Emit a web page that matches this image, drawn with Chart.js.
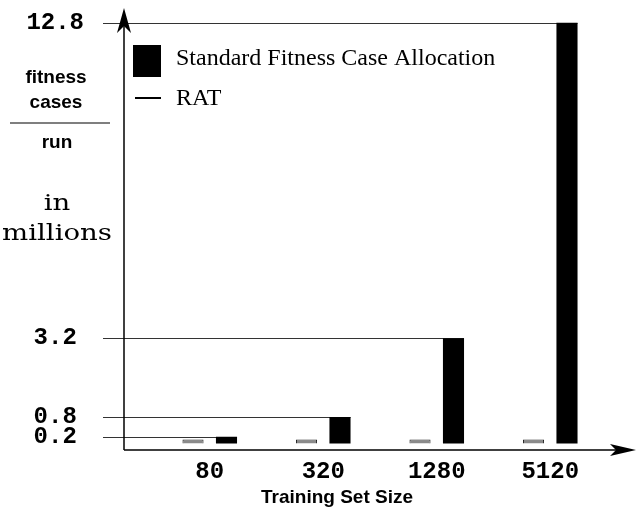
<!DOCTYPE html>
<html><head><meta charset="utf-8">
<script src="https://cdn.jsdelivr.net/npm/chart.js@4.4.1/dist/chart.umd.min.js"></script>
<style>html,body{margin:0;padding:0;background:#fff}canvas{display:block}</style>
</head><body>
<canvas id="c" width="636" height="521"></canvas>
<script>
const categories = ['80', '320', '1280', '5120'];
const ratValues = [0.12, 0.12, 0.12, 0.12];
const standardValues = [0.2, 0.8, 3.2, 12.8];
const yTickValues = [0.2, 0.8, 3.2, 12.8];
const seriesNames = ['RAT', 'Standard Fitness Case Allocation'];
const xAxisTitle = 'Training Set Size';
const yLabelTop = ['fitness', 'cases'];
const yLabelBottom = 'run';
const yLabelUnit = ['in', 'millions'];

const decor = {
  id: 'decor',
  beforeDatasetsDraw(chart) {
    const ctx = chart.ctx;
    const std = chart.getDatasetMeta(1).data;
    ctx.save();
    ctx.strokeStyle = '#333';
    ctx.lineWidth = 1;
    std.forEach(el => {
      const y = Math.round(el.y) + 0.5;
      ctx.beginPath();
      ctx.moveTo(103, y);
      ctx.lineTo(el.x + el.width / 2, y);
      ctx.stroke();
    });
    ctx.restore();
  },
  afterDraw(chart) {
    const ctx = chart.ctx;
    const ca = chart.chartArea;
    const ax = ca.left - 29;
    const ay = ca.bottom;
    ctx.save();
    ctx.strokeStyle = '#000';
    ctx.fillStyle = '#000';
    ctx.lineWidth = 1.5;
    // y axis
    ctx.beginPath(); ctx.moveTo(ax, ay); ctx.lineTo(ax, 20); ctx.stroke();
    ctx.beginPath();
    ctx.moveTo(ax, 8); ctx.lineTo(ax - 7, 33); ctx.lineTo(ax, 26); ctx.lineTo(ax + 7, 33);
    ctx.closePath(); ctx.fill();
    // x axis
    ctx.beginPath(); ctx.moveTo(ax, ay); ctx.lineTo(620, ay); ctx.stroke();
    ctx.beginPath();
    ctx.moveTo(636, ay); ctx.lineTo(610, ay - 6); ctx.lineTo(616, ay); ctx.lineTo(610, ay + 6);
    ctx.closePath(); ctx.fill();

    // legend
    ctx.fillRect(133, 45, 28, 32);
    ctx.lineWidth = 2;
    ctx.beginPath(); ctx.moveTo(135, 98); ctx.lineTo(161, 98); ctx.stroke();
    ctx.font = '24px "Liberation Serif", "Times New Roman", serif';
    ctx.textAlign = 'left';
    ctx.textBaseline = 'alphabetic';
    ctx.fillText(chart.data.datasets[1].label, 176, 65);
    ctx.fillText(chart.data.datasets[0].label, 176, 105);

    // y label block
    ctx.textAlign = 'center';
    ctx.font = 'bold 19px "Liberation Sans", Arial, sans-serif';
    ctx.fillText(yLabelTop[0], 56, 83);
    ctx.fillText(yLabelTop[1], 56, 108);
    ctx.fillText(yLabelBottom, 57, 148);
    ctx.lineWidth = 1.2;
    ctx.beginPath(); ctx.moveTo(10, 123); ctx.lineTo(110, 123); ctx.stroke();
    ctx.font = '23px "DejaVu Serif", serif';
    ctx.save();
    ctx.translate(57, 0);
    ctx.scale(1.2, 1);
    ctx.fillText(yLabelUnit[0], 0, 210);
    ctx.fillText(yLabelUnit[1], 0, 240);
    ctx.restore();

    // x title
    ctx.font = 'bold 19px "Liberation Sans", Arial, sans-serif';
    ctx.fillText(xAxisTitle, 337, 503);
    ctx.restore();
  }
};

new Chart(document.getElementById('c'), {
  type: 'bar',
  data: {
    labels: categories,
    datasets: [
      { label: seriesNames[0], data: ratValues, backgroundColor: '#8a8a8a', borderColor: '#222', borderWidth: 1,
        categoryPercentage: 0.59, barPercentage: 0.63 },
      { label: seriesNames[1], data: standardValues, backgroundColor: '#000', borderWidth: 0,
        categoryPercentage: 0.59, barPercentage: 0.63 }
    ]
  },
  options: {
    responsive: false,
    animation: false,
    devicePixelRatio: 1,
    layout: { padding: { top: 22.5, right: 29, left: 0, bottom: 0 } },
    plugins: { legend: { display: false }, tooltip: { enabled: false } },
    scales: {
      x: {
        offset: true,
        grid: { display: false, drawTicks: false },
        border: { display: false },
        ticks: { font: { family: '"Liberation Mono", monospace', weight: 'bold', size: 24 }, color: '#000', padding: 8, maxRotation: 0 },
        afterFit(s) { s.height = 71; s.paddingLeft = 0; s.paddingRight = 0; }
      },
      y: {
        min: -0.2,
        max: 12.8,
        grid: { display: false, drawTicks: false },
        border: { display: false },
        afterBuildTicks(s) { s.ticks = yTickValues.map(v => ({ value: v })); },
        ticks: {
          font: { family: '"Liberation Mono", monospace', weight: 'bold', size: 24 },
          color: '#000',
          crossAlign: 'center',
          padding: 69,
          callback: v => String(v)
        },
        afterFit(s) { s.width = 153; s.paddingTop = 0; s.paddingBottom = 0; }
      }
    }
  },
  plugins: [decor]
});
</script>
</body></html>
